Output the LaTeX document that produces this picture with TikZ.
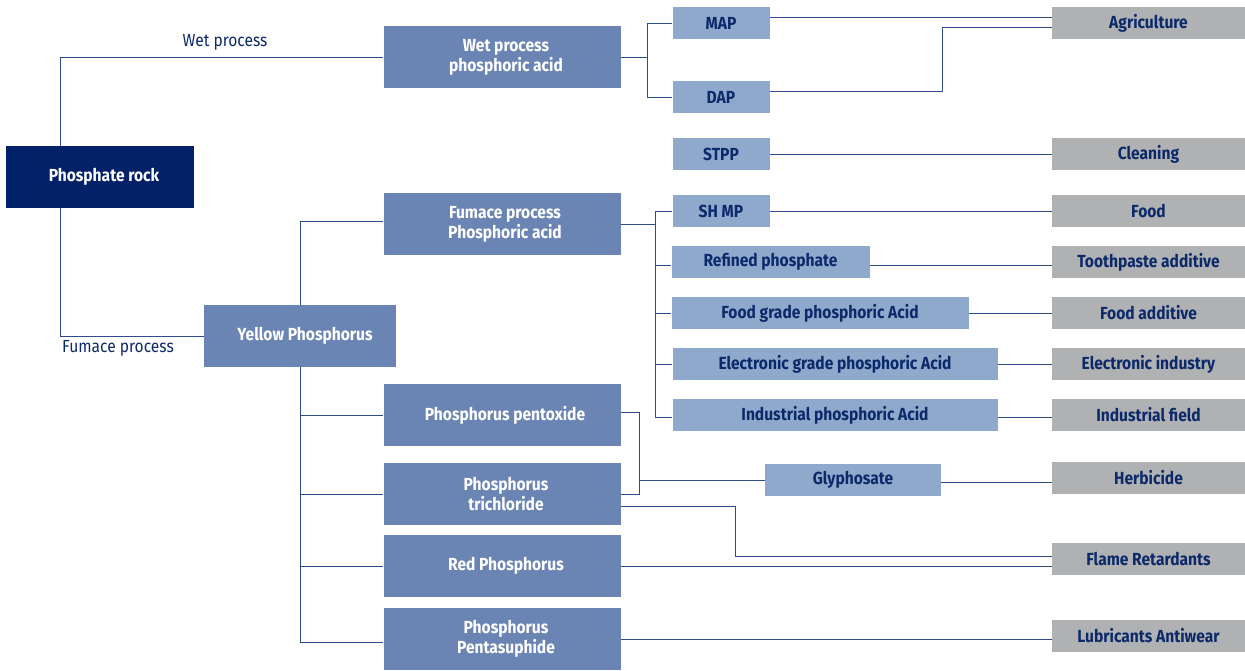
\documentclass[tikz,border=0pt]{standalone}
\usepackage{fontspec}
\setmainfont{Fira Sans}[FakeStretch=0.89]
\definecolor{rockblue}{HTML}{022169}
\definecolor{midblue}{HTML}{6A85B4}
\definecolor{lightblue}{HTML}{8FA9CD}
\definecolor{usegray}{HTML}{B0B1B3}
\definecolor{navytext}{HTML}{0C2A6A}
\definecolor{wire}{HTML}{2E4C8C}
\tikzset{
  box/.style={rectangle, inner sep=0pt, align=center, font=\fontsize{17.5}{20}\selectfont\bfseries},
  rockbox/.style={box, fill=rockblue, text=white},
  midbox/.style={box, fill=midblue, text=white},
  prodbox/.style={box, fill=lightblue, text=navytext},
  usebox/.style={box, fill=usegray, text=navytext},
  link/.style={draw=wire, line width=1pt},
  routelabel/.style={text=navytext, font=\fontsize{17.5}{20}\selectfont},
}
\begin{document}
\begin{tikzpicture}[x=1pt, y=-1pt]
\useasboundingbox (0,0) rectangle (1245,670);

% source and process stages
\node[rockbox, minimum width=188, minimum height=62] (rock) at (100,177) {\hspace*{8pt}Phosphate rock};
\node[midbox, minimum width=237, minimum height=62] (wet) at (502,57) {\hspace*{8pt}Wet process\\\hspace*{8pt}phosphoric acid};
\node[midbox, minimum width=237, minimum height=62] (fum) at (502,224) {\hspace*{6pt}Fumace process\\\hspace*{6pt}Phosphoric acid};
\node[midbox, minimum width=192, minimum height=62] (yel) at (300,336) {\hspace*{10pt}Yellow Phosphorus};
\node[midbox, minimum width=237, minimum height=62] (pent) at (502,415) {\hspace*{6pt}Phosphorus pentoxide};
\node[midbox, minimum width=237, minimum height=62] (tri) at (502,494) {\hspace*{8pt}Phosphorus\\\hspace*{8pt}trichloride};
\node[midbox, minimum width=237, minimum height=62] (red) at (502,566) {\hspace*{8pt}Red Phosphorus};
\node[midbox, minimum width=237, minimum height=62] (pss) at (502,639) {\hspace*{8pt}Phosphorus\\\hspace*{8pt}Pentasuphide};

% products
\node[prodbox, minimum width=97, minimum height=32] (map) at (721,23) {MAP};
\node[prodbox, minimum width=97, minimum height=32] (dap) at (721,97) {DAP};
\node[prodbox, minimum width=97, minimum height=32] (stpp) at (721,154) {STPP};
\node[prodbox, minimum width=97, minimum height=32] (shmp) at (721,211) {SH MP};
\node[prodbox, minimum width=198, minimum height=32] (refp) at (770.5,262) {Refined phosphate};
\node[prodbox, minimum width=297, minimum height=32] (fgpa) at (820,313) {Food grade phosphoric Acid};
\node[prodbox, minimum width=325, minimum height=32] (egpa) at (835,364) {Electronic grade phosphoric Acid};
\node[prodbox, minimum width=325, minimum height=32] (ipa) at (835,415) {Industrial phosphoric Acid};
\node[prodbox, minimum width=176, minimum height=32] (gly) at (853,480) {Glyphosate};

% applications
\node[usebox, minimum width=193, minimum height=32] (agri) at (1148.5,23) {Agriculture};
\node[usebox, minimum width=193, minimum height=32] (clean) at (1148.5,154) {Cleaning};
\node[usebox, minimum width=193, minimum height=32] (food) at (1148.5,211) {Food};
\node[usebox, minimum width=193, minimum height=32] (tooth) at (1148.5,262) {Toothpaste additive};
\node[usebox, minimum width=193, minimum height=32] (fadd) at (1148.5,313) {Food additive};
\node[usebox, minimum width=193, minimum height=32] (eind) at (1148.5,364) {Electronic industry};
\node[usebox, minimum width=193, minimum height=32] (ifld) at (1148.5,415) {Industrial field};
\node[usebox, minimum width=193, minimum height=32] (herb) at (1148.5,478) {Herbicide};
\node[usebox, minimum width=193, minimum height=32] (flame) at (1148.5,559) {Flame Retardants};
\node[usebox, minimum width=193, minimum height=32] (lube) at (1148.5,636) {Lubricants Antiwear};

% route labels
\node[routelabel] (wetlbl) at (225,42) {Wet process};
\node[routelabel] (fumlbl) at (118,348) {Fumace process};

% rock to the two processes
\draw[link] ([xshift=55]rock.north west) |- (wet.west);
\draw[link] ([xshift=55]rock.south west) |- (yel.west);

% wet process branches
\draw[link] (wet.east) -- ++(27,0) |- (map.west);
\draw[link] (wet.east) -- ++(27,0) |- (dap.west);
\draw[link] ([yshift=6]map.east) -- ([yshift=6]agri.west);
\draw[link] ([yshift=6]dap.east) -- ++(173,0) |- ([yshift=-4]agri.west);
\draw[link] (stpp.east) -- (clean.west);

% yellow phosphorus branches
\draw[link] (yel.north) |- ([yshift=3]fum.west);
\draw[link] (yel.south) |- (pent.west);
\draw[link] (yel.south) |- (tri.west);
\draw[link] (yel.south) |- (red.west);
\draw[link] (yel.south) |- ([yshift=-3]pss.west);

% furnace process acid branches
\draw[link] (fum.east) -- ++(35,0) |- (shmp.west);
\draw[link] (fum.east) -- ++(35,0) |- ([yshift=-3]refp.west);
\draw[link] (fum.east) -- ++(35,0) |- (fgpa.west);
\draw[link] (fum.east) -- ++(35,0) |- (egpa.west);
\draw[link] (fum.east) -- ++(35,0) |- ([yshift=-2]ipa.west);
\draw[link] (shmp.east) -- (shmp.east -| food.west);
\draw[link] ([yshift=-3]refp.east) -- ([yshift=-3]refp.east -| tooth.west);
\draw[link] (fgpa.east) -- (fgpa.east -| fadd.west);
\draw[link] (egpa.east) -- (egpa.east -| eind.west);
\draw[link] ([yshift=-2]ipa.east) -- ([yshift=-2]ipa.east -| ifld.west);

% phosphorus compounds to their uses
\draw[link] ([yshift=3]pent.east) -| ([xshift=19]tri.east) -- (tri.east);
\draw[link] ([xshift=19]tri.east |- gly.west) -- (gly.west);
\draw[link] ([yshift=-2]gly.east) -- ([yshift=-2]gly.east -| herb.west);
\draw[link] ([yshift=-12]tri.east) -- ++(115,0) |- ([yshift=3]flame.west);
\draw[link] (red.east) -- (red.east -| flame.west);
\draw[link] (pss.east) -- (pss.east -| lube.west);
\end{tikzpicture}
\end{document}
